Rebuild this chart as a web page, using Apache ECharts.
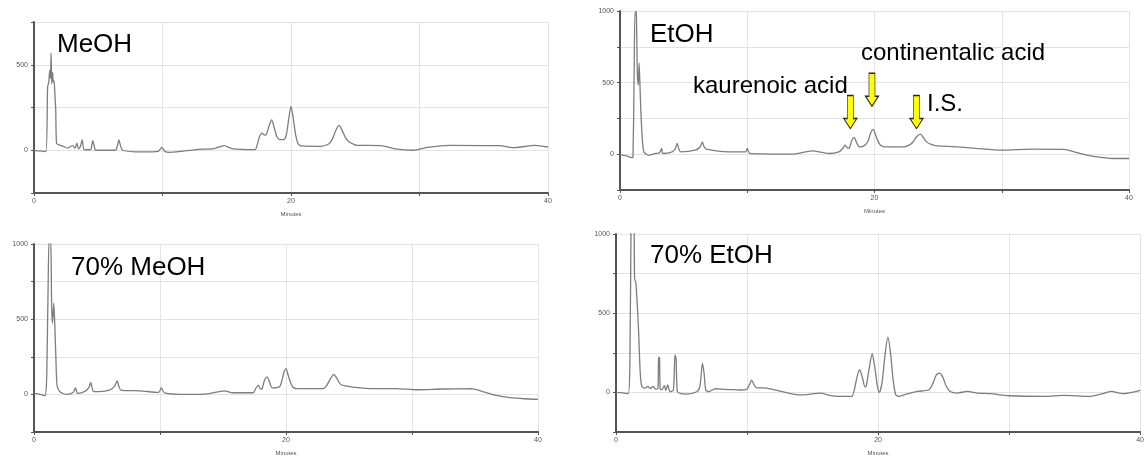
<!DOCTYPE html>
<html>
<head>
<meta charset="utf-8">
<script src="https://cdn.jsdelivr.net/npm/echarts@6/dist/echarts.min.js"></script>
<style>
html,body{margin:0;padding:0;background:#fff;}
#chart{width:1147px;height:457px;}
</style>
</head>
<body>
<div id="chart"></div>
<script>
// ---------- data (time in minutes, detector response) ----------
const panelNames = ['MeOH', 'EtOH', '70% MeOH', '70% EtOH'];
const yMax = [750, 1000, 1000, 1000];
const xTickLabels = [0, 20, 40];
const yTickLabels = [0, 500, 1000];

const meoh = [[0,-2],[0.5,-4],[0.92,-8],[1.06,369],[1.15,400],[1.22,465],[1.28,420],[1.33,570],[1.38,388],[1.45,455],[1.5,400],[1.56,407],[1.61,349],[1.69,234],[1.75,42],[1.89,33],[2.3,23],[2.6,13],[3.0,27],[3.2,12],[3.33,42],[3.47,8],[3.6,20],[3.75,61],[3.9,4],[4.4,3],[4.5,30],[4.58,56],[4.68,28],[4.8,0],[6.33,0],[6.5,30],[6.61,61],[6.72,30],[6.9,0],[8.4,-10],[9.67,-6],[9.94,17],[10.2,-8],[10.6,-12],[12.6,4],[14.0,10],[14.8,27],[15.4,10],[17.2,4],[17.4,40],[17.55,80],[17.75,100],[17.95,88],[18.1,95],[18.3,145],[18.5,177],[18.7,130],[18.9,80],[19.1,62],[19.45,62],[19.65,95],[19.8,170],[20.0,257],[20.2,175],[20.35,95],[20.55,40],[20.8,25],[22.3,23],[22.9,35],[23.2,62],[23.5,118],[23.75,145],[24.0,112],[24.25,72],[24.5,50],[24.8,38],[25.1,29],[27.0,27],[28.1,8],[29.5,0],[30.6,17],[32.3,29],[36.2,27],[37.3,15],[39,29],[40,19]];

const etoh = [[0,-5],[0.5,-12],[0.96,-23],[1.02,-19],[1.1,458],[1.18,997],[1.28,990],[1.36,574],[1.44,481],[1.5,636],[1.57,481],[1.62,342],[1.75,109],[1.88,16],[2.27,-7],[2.8,5],[3.1,10],[3.27,40],[3.37,5],[4.1,16],[4.35,40],[4.5,75],[4.65,30],[4.8,16],[5.9,28],[6.3,50],[6.47,86],[6.62,50],[6.8,35],[8.5,16],[9.87,16],[10.0,40],[10.2,5],[11.1,2],[12.3,0],[13.5,0],[15.1,23],[16.4,5],[17.2,16],[17.5,40],[17.7,63],[17.9,42],[18.0,42],[18.2,92],[18.4,117],[18.6,80],[18.8,51],[19.2,60],[19.5,92],[19.7,150],[19.9,173],[20.1,130],[20.3,86],[20.5,60],[20.8,51],[22.2,51],[22.6,58],[23.0,82],[23.3,122],[23.6,140],[23.85,115],[24.1,86],[24.4,70],[24.8,60],[26.5,51],[28,40],[30,28],[32.3,35],[34.9,33],[35.7,16],[36.7,-7],[37.5,-19],[38.7,-30],[40,-30]];

const meoh70 = [[0,7],[0.5,0],[0.87,-9],[1.0,100],[1.1,600],[1.21,1050],[1.32,1050],[1.4,595],[1.47,473],[1.57,607],[1.65,462],[1.73,262],[1.83,62],[2.05,18],[2.6,0],[3.1,13],[3.3,44],[3.46,7],[4.0,18],[4.35,45],[4.5,80],[4.62,40],[4.75,18],[6.0,29],[6.4,55],[6.6,89],[6.75,50],[6.9,29],[8.4,24],[9.9,13],[10.1,44],[10.35,10],[12.1,0],[13.8,4],[15.1,24],[15.8,11],[17.4,11],[17.6,40],[17.8,60],[18.0,35],[18.1,38],[18.3,95],[18.5,116],[18.7,80],[18.9,44],[19.5,53],[19.7,100],[19.85,150],[20.0,171],[20.2,120],[20.4,71],[20.6,45],[20.9,38],[22.9,38],[23.2,55],[23.5,100],[23.8,133],[24.05,105],[24.3,70],[24.7,56],[26.7,38],[28.7,38],[30.4,31],[32.4,36],[34.7,38],[35.5,22],[36.7,-7],[37.8,-22],[38.9,-29],[40,-33]];

const etoh70 = [[0,0],[0.5,-3],[0.93,-8],[1.06,200],[1.15,1100],[1.2,1300],[1.3,1300],[1.38,1100],[1.42,721],[1.52,689],[1.72,395],[1.85,122],[1.97,38],[2.22,27],[2.43,38],[2.6,25],[2.86,38],[3.0,21],[3.2,25],[3.25,223],[3.32,219],[3.37,21],[3.5,17],[3.7,42],[3.8,13],[3.95,48],[4.13,4],[4.38,15],[4.5,237],[4.58,216],[4.68,4],[4.9,-6],[5.28,-11],[6.16,4],[6.4,38],[6.6,185],[6.72,122],[6.85,15],[7.05,4],[7.6,23],[8.3,19],[9.0,17],[9.6,15],[10.0,22],[10.2,52],[10.35,78],[10.5,55],[10.7,30],[11.5,27],[12.6,6],[13.9,-15],[14.3,-15],[15.6,-4],[16.3,-19],[16.97,-25],[17.98,-25],[18.2,20],[18.4,100],[18.6,143],[18.8,95],[19.0,35],[19.1,40],[19.3,140],[19.55,244],[19.75,160],[19.95,40],[20.1,0],[20.3,60],[20.55,250],[20.75,349],[20.95,250],[21.15,80],[21.35,-15],[21.6,-25],[22.0,-15],[23.0,6],[23.9,17],[24.2,60],[24.45,110],[24.7,122],[24.95,95],[25.2,40],[25.5,6],[26.05,-4],[26.8,6],[27.6,-4],[28.6,-8],[30,-21],[32.8,-25],[34.2,-19],[36.1,-25],[37.3,-4],[37.8,6],[38.7,-8],[40,13]];

const traces = [meoh, etoh, meoh70, etoh70];

// annotations on EtOH panel
const peakNames = ['kaurenoic acid', 'continentalic acid', 'I.S.'];
const arrowTimes = [18.1, 19.8, 23.3];
const arrowTips = [179, 335, 179];

// ---------- layout ----------
const grids = [
  {left: 34, top: 22, width: 514, height: 171},
  {left: 620, top: 11, width: 509, height: 179},
  {left: 34, top: 244, width: 504, height: 188},
  {left: 616, top: 234, width: 526, height: 198}
];
const titlePos = [[57, 47], [650, 37], [71, 270], [650, 258]];
const peakLabelPos = [[693, 88], [861, 55], [927, 106]];

const axisColor = '#555';
const gridColor = '#e3e3e3';
const font = 'Liberation Sans, Arial, sans-serif';

const xAxes = grids.map((g, i) => ({
  type: 'value', gridIndex: i, min: 0, max: 40, interval: 10,
  axisLine: {show: true, onZero: false, lineStyle: {color: axisColor, width: 2}},
  axisTick: {show: true, length: 3, lineStyle: {color: axisColor}},
  axisLabel: {fontSize: 7, color: axisColor, margin: 5, fontFamily: font,
    formatter: v => xTickLabels.includes(v) ? String(v) : ''},
  splitLine: {show: true, lineStyle: {color: gridColor, width: 1}},
  name: 'Minutes', nameLocation: 'middle', nameGap: 18,
  nameTextStyle: {fontSize: 6, color: axisColor, fontFamily: font}
}));

const yAxes = grids.map((g, i) => ({
  type: 'value', gridIndex: i, min: -250, max: yMax[i], interval: 250,
  axisLine: {show: true, lineStyle: {color: axisColor, width: 2}},
  axisTick: {show: true, length: 3, lineStyle: {color: axisColor}},
  axisLabel: {fontSize: 7, color: axisColor, margin: 6, fontFamily: font,
    formatter: v => yTickLabels.includes(v) ? String(v) : ''},
  splitLine: {show: true, lineStyle: {color: gridColor, width: 1}}
}));

const series = traces.map((d, i) => ({
  type: 'line', xAxisIndex: i, yAxisIndex: i, data: d,
  showSymbol: false, smooth: 0.25, clip: true,
  lineStyle: {color: '#7d7d7d', width: 1.3},
  animation: false
}));

series[1].markPoint = {
  symbol: 'path://M3,0L9,0L9,23L12.5,23L6,33L-0.5,23L3,23Z',
  symbolSize: [13, 33],
  symbolOffset: [0, '-50%'],
  itemStyle: {color: '#ffff00', borderColor: '#222', borderWidth: 1},
  label: {show: false},
  silent: true,
  data: arrowTimes.map((t, k) => ({coord: [t, arrowTips[k]]}))
};

const graphics = [];
panelNames.forEach((name, i) => {
  graphics.push({type: 'text', left: titlePos[i][0], top: titlePos[i][1] - 15, z: 100,
    style: {text: name, fontSize: 26, fontFamily: font, fill: '#000'}});
});
peakNames.forEach((name, i) => {
  graphics.push({type: 'text', left: peakLabelPos[i][0], top: peakLabelPos[i][1] - 14, z: 100,
    style: {text: name, fontSize: 24, fontFamily: font, fill: '#000'}});
});

const chart = echarts.init(document.getElementById('chart'), null, {renderer: 'canvas'});
chart.setOption({
  animation: false,
  backgroundColor: '#fff',
  grid: grids,
  xAxis: xAxes,
  yAxis: yAxes,
  series: series,
  graphic: graphics
});
</script>
</body>
</html>
